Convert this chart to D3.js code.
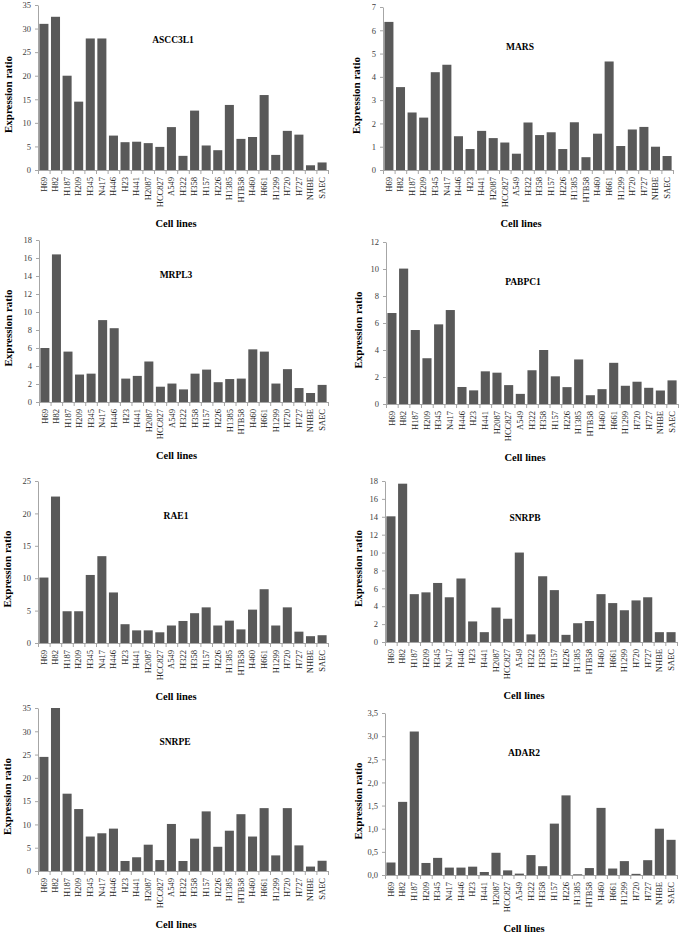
<!DOCTYPE html>
<html>
<head>
<meta charset="utf-8">
<script src="https://cdn.jsdelivr.net/npm/d3@7/dist/d3.min.js"></script>
<style>
  html, body { margin: 0; padding: 0; background: #fff; }
  svg { display: block; }
</style>
</head>
<body>
<svg id="chart" width="683" height="934"></svg>
<script>
// ---------------- DATA ----------------
const cellLines = ["H69","H82","H187","H209","H345","N417","H446","H23","H441","H2087","HCC827","A549","H322","H358","H157","H226","H1385","HTB58","H460","H661","H1299","H720","H727","NHBE","SAEC"];

const geneNames = ["ASCC3L1","MARS","MRPL3","PABPC1","RAE1","SNRPB","SNRPE","ADAR2"];

const ascc3l1 = [31.0, 32.5, 20.0, 14.5, 27.9, 27.9, 7.3, 5.9, 6.0, 5.7, 4.9, 9.1, 3.0, 12.6, 5.2, 4.2, 13.8, 6.6, 7.0, 15.9, 3.2, 8.3, 7.5, 1.0, 1.6];
const mars    = [6.36, 3.56, 2.47, 2.25, 4.2, 4.52, 1.45, 0.9, 1.68, 1.37, 1.18, 0.7, 2.04, 1.5, 1.62, 0.9, 2.05, 0.55, 1.56, 4.66, 1.03, 1.74, 1.85, 1.0, 0.6];
const mrpl3   = [6.0, 16.4, 5.6, 3.05, 3.15, 9.1, 8.2, 2.6, 2.9, 4.5, 1.7, 2.05, 1.4, 3.15, 3.6, 2.2, 2.55, 2.6, 5.85, 5.6, 2.05, 3.65, 1.55, 1.0, 1.9];
const pabpc1  = [6.74, 10.03, 5.48, 3.39, 5.9, 6.96, 1.26, 1.01, 2.42, 2.32, 1.4, 0.75, 2.5, 4.0, 2.05, 1.25, 3.3, 0.65, 1.1, 3.05, 1.35, 1.65, 1.2, 1.0, 1.75];
const rae1    = [10.1, 22.6, 4.9, 4.9, 10.5, 13.4, 7.8, 2.9, 1.95, 1.95, 1.65, 2.7, 3.4, 4.6, 5.5, 2.7, 3.45, 2.1, 5.15, 8.3, 2.7, 5.5, 1.75, 1.05, 1.2];
const snrpb   = [14.05, 17.7, 5.35, 5.55, 6.6, 5.0, 7.1, 2.3, 1.1, 3.85, 2.6, 10.0, 0.85, 7.35, 5.8, 0.8, 2.1, 2.35, 5.35, 4.35, 3.55, 4.65, 5.0, 1.1, 1.1];
const snrpe   = [24.5, 35.0, 16.6, 13.3, 7.4, 8.1, 9.1, 2.15, 2.95, 5.65, 2.35, 10.1, 2.15, 6.95, 12.8, 5.2, 8.65, 12.2, 7.4, 13.5, 3.35, 13.5, 5.5, 0.95, 2.2];
const adar2   = [0.27, 1.58, 3.1, 0.26, 0.37, 0.16, 0.16, 0.18, 0.065, 0.48, 0.1, 0.03, 0.43, 0.19, 1.11, 1.72, 0.015, 0.15, 1.45, 0.14, 0.3, 0.025, 0.32, 1.0, 0.76];

const ticksASCC3L1 = [0, 5, 10, 15, 20, 25, 30, 35];
const ticksMARS    = [0, 1, 2, 3, 4, 5, 6, 7];
const ticksMRPL3   = [0, 2, 4, 6, 8, 10, 12, 14, 16, 18];
const ticksPABPC1  = [0, 2, 4, 6, 8, 10, 12];
const ticksRAE1    = [0, 5, 10, 15, 20, 25];
const ticksSNRPB   = [0, 2, 4, 6, 8, 10, 12, 14, 16, 18];
const ticksSNRPE   = [0, 5, 10, 15, 20, 25, 30, 35];
const ticksADAR2   = [0, 0.5, 1.0, 1.5, 2.0, 2.5, 3.0, 3.5];

const yAxisTitle = "Expression ratio";
const xAxisTitle = "Cell lines";

const seriesList = [ascc3l1, mars, mrpl3, pabpc1, rae1, snrpb, snrpe, adar2];
const tickList = [ticksASCC3L1, ticksMARS, ticksMRPL3, ticksPABPC1, ticksRAE1, ticksSNRPB, ticksSNRPE, ticksADAR2];
const commaDecimal = [false, false, false, false, false, false, false, true];

// ---------------- LAYOUT ----------------
const layout = [
  {left: 38,  right: 328, top: 5,   bottom: 170, ylabX: 8,   tx: 173, ty: 43},
  {left: 383, right: 673, top: 7,   bottom: 170, ylabX: 356, tx: 520, ty: 50},
  {left: 39,  right: 328, top: 240, bottom: 402, ylabX: 8,   tx: 176, ty: 278},
  {left: 386, right: 678, top: 242, bottom: 404, ylabX: 358, tx: 523, ty: 285},
  {left: 38,  right: 328, top: 481, bottom: 643, ylabX: 7,   tx: 176, ty: 519},
  {left: 385, right: 677, top: 481, bottom: 642, ylabX: 358, tx: 525, ty: 521},
  {left: 38,  right: 328, top: 708, bottom: 871, ylabX: 7,   tx: 175, ty: 745},
  {left: 385, right: 677, top: 713, bottom: 875, ylabX: 358, tx: 524, ty: 756}
];

const serif = "'Liberation Serif', 'Times New Roman', serif";
const barColor = "#595959";
const axisColor = "#a6a6a6";

const svg = d3.select("#chart");

seriesList.forEach((values, i) => {
  const L = layout[i];
  const ticks = tickList[i];
  const g = svg.append("g");

  const x = d3.scaleBand()
    .domain(cellLines)
    .range([L.left, L.right])
    .paddingInner(0.22)
    .paddingOuter(0.12);

  const y = d3.scaleLinear()
    .domain([0, ticks[ticks.length - 1]])
    .range([L.bottom, L.top]);

  // bars
  g.selectAll("rect.bar")
    .data(values)
    .join("rect")
    .attr("class", "bar")
    .attr("x", (d, k) => x(cellLines[k]))
    .attr("width", x.bandwidth())
    .attr("y", d => y(d))
    .attr("height", d => L.bottom - y(d))
    .attr("fill", barColor);

  // y axis
  const fmt = commaDecimal[i]
    ? (d => d3.format(".1f")(d).replace(".", ","))
    : d3.format("d");
  const yAxis = g.append("g")
    .attr("transform", `translate(${L.left},0)`)
    .call(d3.axisLeft(y).tickValues(ticks).tickSize(3).tickSizeOuter(0).tickPadding(4).tickFormat(fmt));
  yAxis.select(".domain").attr("stroke", axisColor);
  yAxis.selectAll(".tick line").attr("stroke", axisColor);
  yAxis.selectAll(".tick text")
    .attr("fill", "#404040")
    .style("font-family", serif)
    .style("font-size", "8.5px");

  // x axis: boundary tick marks
  const xb = d3.scaleLinear().domain([0, cellLines.length]).range([L.left, L.right]);
  const xTicks = g.append("g")
    .attr("transform", `translate(0,${L.bottom})`)
    .call(d3.axisBottom(xb).tickValues(d3.range(cellLines.length + 1)).tickSize(4).tickSizeOuter(0).tickFormat(""));
  xTicks.select(".domain").attr("stroke", axisColor);
  xTicks.selectAll(".tick line").attr("stroke", axisColor);

  // x axis: category labels
  const xLab = g.append("g")
    .attr("transform", `translate(0,${L.bottom})`)
    .call(d3.axisBottom(x).tickSize(0).tickSizeOuter(0));
  xLab.select(".domain").remove();
  xLab.selectAll(".tick text")
    .attr("transform", "rotate(-90)")
    .attr("x", -7)
    .attr("y", 0)
    .attr("dy", "0.33em")
    .style("text-anchor", "end")
    .attr("fill", "#262626")
    .style("font-family", serif)
    .style("font-size", "8.5px");

  // gene title
  g.append("text")
    .attr("x", L.tx)
    .attr("y", L.ty)
    .attr("text-anchor", "middle")
    .style("font-family", serif)
    .style("font-weight", "bold")
    .style("font-size", "9.5px")
    .attr("fill", "#000")
    .text(geneNames[i]);

  // y axis title
  const yc = (L.top + L.bottom) / 2 + 7;
  g.append("text")
    .attr("transform", `translate(${L.ylabX + 4},${yc}) rotate(-90)`)
    .attr("text-anchor", "middle")
    .style("font-family", serif)
    .style("font-weight", "bold")
    .style("font-size", "11px")
    .attr("fill", "#000")
    .text(yAxisTitle);

  // x axis title
  g.append("text")
    .attr("x", (L.left + L.right) / 2 - 7)
    .attr("y", L.bottom + 57)
    .attr("text-anchor", "middle")
    .style("font-family", serif)
    .style("font-weight", "bold")
    .style("font-size", "10.5px")
    .attr("fill", "#000")
    .text(xAxisTitle);
});
</script>
</body>
</html>
